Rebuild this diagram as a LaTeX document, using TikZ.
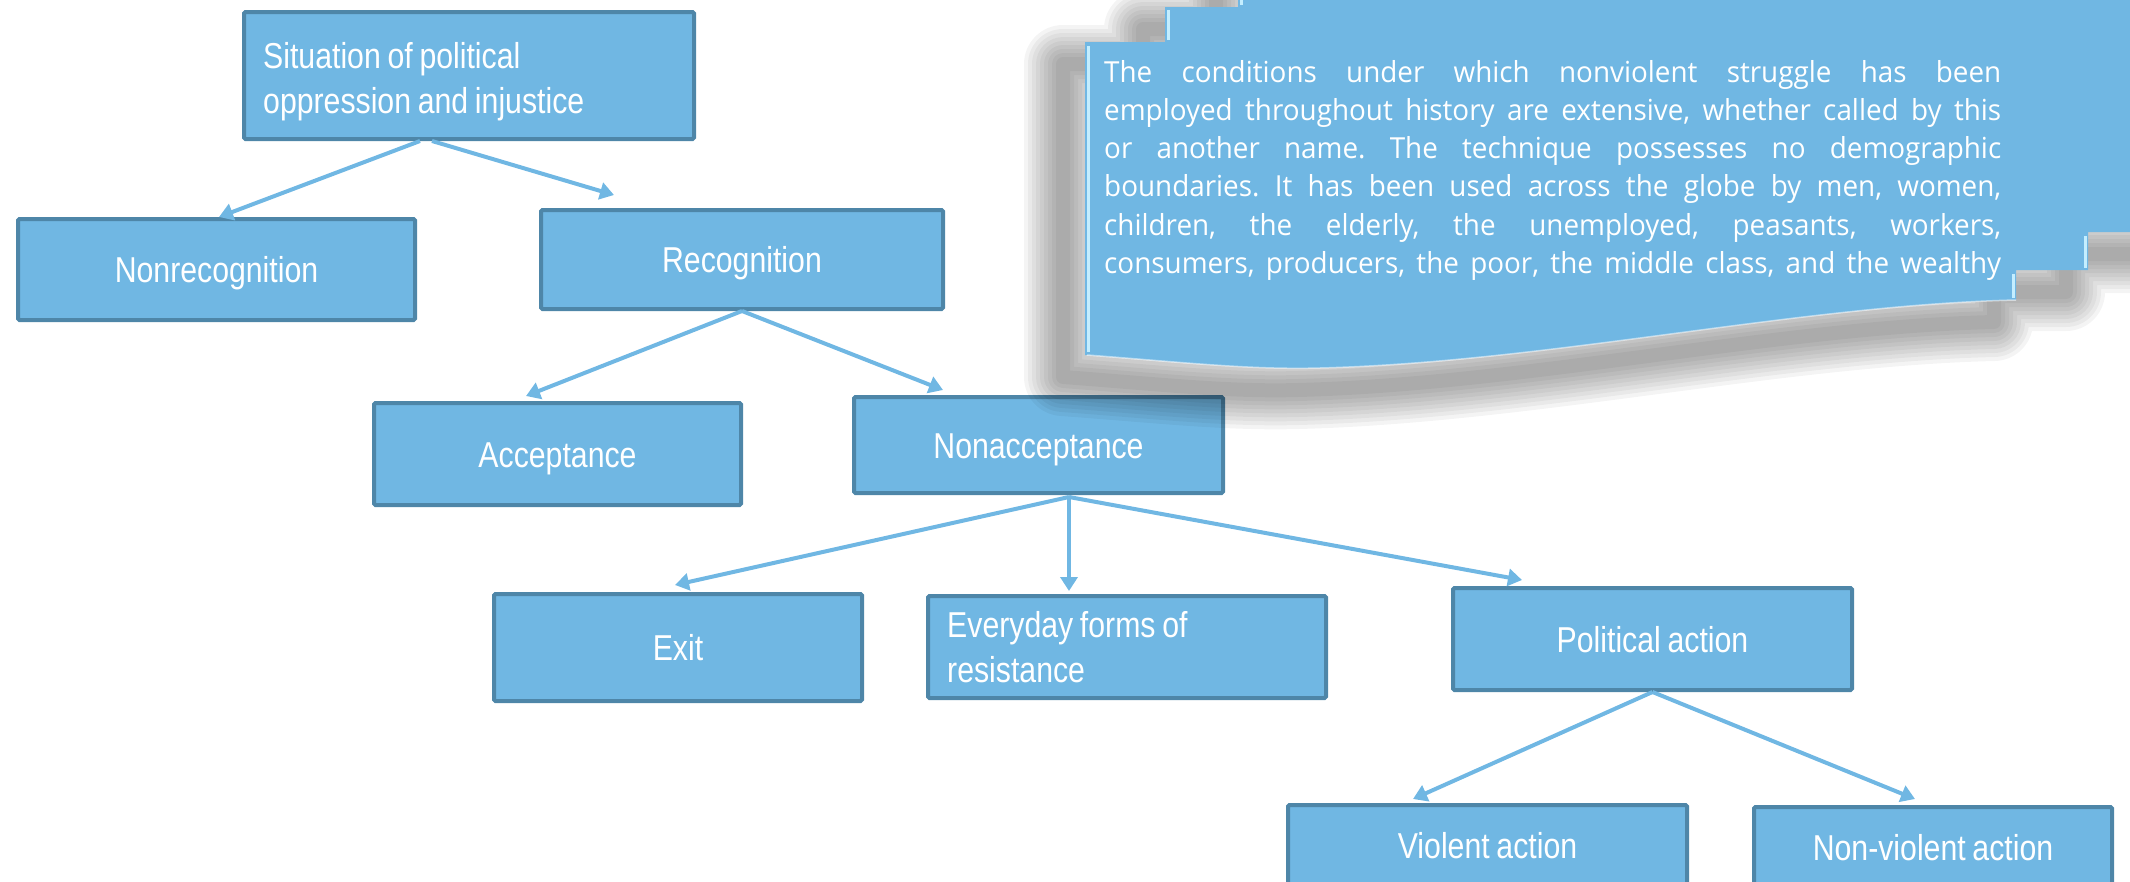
\documentclass[tikz,border=0pt]{standalone}
\usepackage{fontspec}
\setmainfont{Liberation Sans}[FakeStretch=0.84,WordSpace=0.8]
\newfontfamily\callfont{Open Sans}[FakeStretch=0.96]
\usetikzlibrary{arrows.meta,calc}
\definecolor{boxfill}{RGB}{112,183,227}
\definecolor{boxline}{RGB}{78,134,168}
\definecolor{arrowc}{RGB}{112,183,227}
\definecolor{bevel}{RGB}{196,238,255}
\def\calloutpath{(1238,-50) -- (1238,7) -- (1165,7) -- (1165,42) -- (1085,42) -- (1085,355)
  .. controls (1180,362) and (1250,370) .. (1320,368)
  .. controls (1550,362) and (1800,305) .. (2016,300)
  -- (2016,270) -- (2088,270) -- (2088,232) -- (2200,232) -- (2200,-50) -- cycle}
\begin{document}
\begin{tikzpicture}[x=1pt,y=-1pt,
  box/.style={draw=boxline,fill=boxfill,line width=4pt,rounded corners=1.5pt,
    text=white,font=\fontsize{36}{45}\selectfont,inner sep=0pt},
  one/.style={text height=26pt,text depth=0pt},
  boxtext/.style={text=white,font=\fontsize{36}{45}\selectfont,inner sep=0pt,
    anchor=north west,align=left},
  arr/.style={draw=arrowc,line width=4pt,-{Triangle[length=14pt,width=17pt]}},
  shadowline/.style={draw=black,opacity=0.045,line join=round}
]
\clip (0,0) rectangle (2130,881);

% boxes
\node[box,minimum width=450pt,minimum height=127pt] (sit) at (469,75.5) {};
\node[boxtext] (sittext) at ([xshift=21pt,yshift=-32pt]sit.north west)
  {Situation of political\\oppression and injustice};
\node[box,one,minimum width=397pt,minimum height=101pt] (nonrec) at (216.5,269.5) {Nonrecognition};
\node[box,one,minimum width=402pt,minimum height=99pt] (rec) at (742,259.5) {Recognition};
\node[box,one,minimum width=367pt,minimum height=102pt] (acc) at (557.5,454) {Acceptance};
\node[box,one,minimum width=369pt,minimum height=96pt] (nonacc) at (1038.5,445) {Nonacceptance};
\node[box,one,minimum width=368pt,minimum height=107pt] (exit) at (678,647.5) {Exit};
\node[box,minimum width=398pt,minimum height=102pt] (every) at (1127,647) {};
\node[boxtext] (everytext) at ([xshift=21pt,yshift=-17pt]every.north west)
  {Everyday forms of\\resistance};
\node[box,one,minimum width=399pt,minimum height=102pt] (pol) at (1652.5,639) {Political action};
\node[box,one,minimum width=399pt,minimum height=81pt] (viol) at (1487.5,845.5) {Violent action};
\node[box,one,minimum width=358pt,minimum height=81pt] (nonviol) at (1933,847.5) {Non-violent action};

% connectors
\draw[arr] ([xshift=-49pt]sit.south) -- ([xshift=2.5pt]nonrec.north);
\draw[arr] ([xshift=-37pt]sit.south) -- ([xshift=-128pt,yshift=13pt]rec.north);
\draw[arr] (rec.south) -- ([xshift=-31.5pt,yshift=5pt]acc.north);
\draw[arr] (rec.south) -- ([xshift=-95.5pt,yshift=5pt]nonacc.north);
\coordinate (nasplit) at ([xshift=30.5pt,yshift=-2pt]nonacc.south);
\draw[arr] (nasplit) -- ([xshift=-3pt,yshift=7pt]exit.north);
\draw[arr] (nasplit) -- ([xshift=-58pt,yshift=3pt]every.north);
\draw[arr] (nasplit) -- ([xshift=-130.5pt,yshift=6pt]pol.north);
\draw[arr] (pol.south) -- ([xshift=-74.5pt,yshift=4pt]viol.north);
\draw[arr] (pol.south) -- ([xshift=-18pt,yshift=6pt]nonviol.north);

% callout shadow
\begin{scope}[shift={(-22,22)}]
  \foreach \w in {78,70,62,54,46,38,30,22,14} {
    \path[shadowline,line width=\w pt] \calloutpath;
  }
\end{scope}
% callout body
\fill[boxfill] \calloutpath;
% bevel highlights
\draw[bevel,line width=3pt] (1088,46) -- (1088,352);
\draw[bevel,line width=3pt] (1168,10) -- (1168,40);
\draw[bevel,line width=3pt] (1241,0) -- (1241,5);
\draw[bevel,line width=3pt] (2085,236) -- (2085,268);
\draw[bevel,line width=3pt] (2013,274) -- (2013,298);
\draw[white,opacity=0.5,line width=1.5pt] (1087,355)
  .. controls (1180,362) and (1250,370) .. (1320,368)
  .. controls (1550,362) and (1800,305) .. (2016,300);

\node[anchor=north west,inner sep=0pt,text width=897pt,text=white,
  font=\callfont\fontsize{29}{38.2}\selectfont] (ctext) at (1104,60)
  {\noindent\frenchspacing\leftskip=0pt\rightskip=0pt\spaceskip=0pt\xspaceskip=0pt
  \tolerance=10000 \hyphenpenalty=10000
  The conditions under which nonviolent struggle has been\linebreak
  employed throughout history are extensive, whether called by this\linebreak
  or another name. The technique possesses no demographic\linebreak
  boundaries. It has been used across the globe by men, women,\linebreak
  children, the elderly, the unemployed, peasants, workers,\linebreak
  consumers, producers, the poor, the middle class, and the wealthy\parfillskip=0pt\par};
\end{tikzpicture}
\end{document}
